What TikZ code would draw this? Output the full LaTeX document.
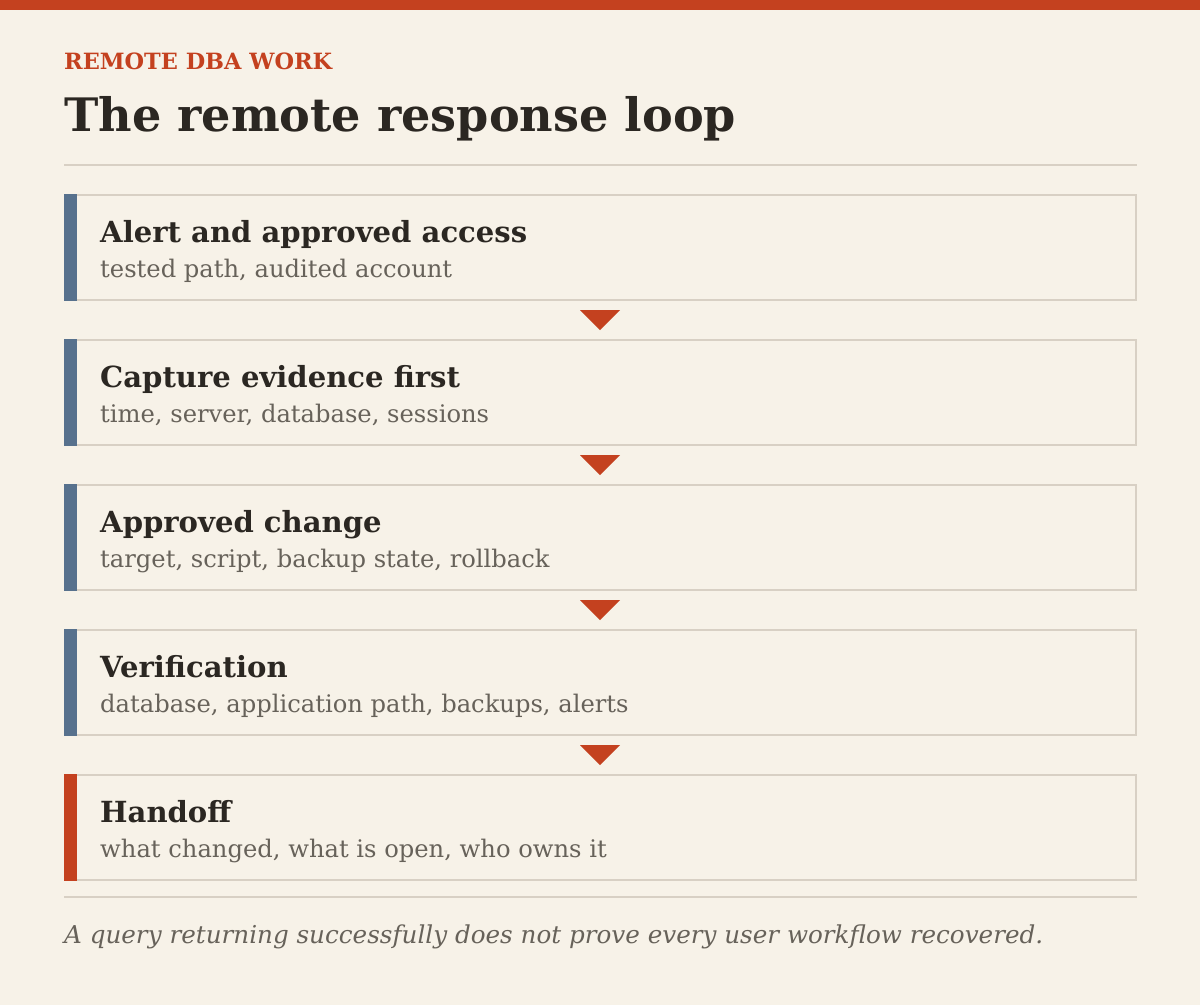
\documentclass[tikz,border=0pt]{standalone}
\usepackage{fontspec}
\setmainfont{DejaVu Serif}
\definecolor{bgc}{HTML}{F7F2E8}
\definecolor{redc}{HTML}{C4411F}
\definecolor{bluec}{HTML}{57718D}
\definecolor{inkc}{HTML}{2B2722}
\definecolor{grayc}{HTML}{67625A}
\definecolor{rulec}{HTML}{D8D0C4}
\newlength\mytw
\newcommand\fitsize[4]{% macro name, target width, font switch, text
  \settowidth\mytw{\normalfont#3\fontsize{10}{12}\selectfont #4}%
  \pgfmathsetmacro#1{10*#2/\mytw}%
  \global\let#1#1}
\AtBeginDocument{%
\fitsize{\ksz}{268}{\bfseries}{REMOTE DBA WORK}%
\fitsize{\hsz}{672}{\bfseries}{The remote response loop}%
\fitsize{\tsz}{427}{\bfseries}{Alert and approved access}%
\fitsize{\ssz}{352}{}{tested path, audited account}%
\fitsize{\fsz}{979}{\itshape}{A query returning successfully does not prove every user workflow recovered.}%
}
\tikzset{
  card/.style={draw=rulec, line width=2pt, fill=bgc},
  ttl/.style={anchor=base west, inner sep=0pt, text=inkc, font=\bfseries\fontsize{\tsz}{\tsz}\selectfont},
  sub/.style={anchor=base west, inner sep=0pt, text=grayc, font=\fontsize{\ssz}{\ssz}\selectfont},
  tri/.style={fill=redc, draw=none},
}
\begin{document}
\begin{tikzpicture}[x=1pt,y=-1pt]
\fill[bgc] (0,0) rectangle (1200,1005);
\useasboundingbox (0,0) rectangle (1200,1005);
\fill[redc] (0,0) rectangle (1200,10);
\node[anchor=base west, inner sep=0pt, text=redc, font=\bfseries\fontsize{\ksz}{\ksz}\selectfont] (kicker) at (64,69) {REMOTE DBA WORK};
\node[anchor=base west, inner sep=0pt, text=inkc, font=\bfseries\fontsize{\hsz}{\hsz}\selectfont] (title) at (64,131) {The remote response loop};
\draw[rulec, line width=2pt] (64,165) coordinate (r1a) -- (1137,165) coordinate (r1b);
\foreach \i/\top/\c/\t/\s in {
 1/195/bluec/Alert and approved access/{tested path, audited account},
 2/340/bluec/Capture evidence first/{time, server, database, sessions},
 3/485/bluec/Approved change/{target, script, backup state, rollback},
 4/630/bluec/Verification/{database, application path, backups, alerts},
 5/775/redc/Handoff/{what changed, what is open, who owns it}}{
  \draw[card] (65,\top) rectangle (1136,\top+105);
  \fill[\c] (64,\top-1) rectangle (77,\top+106);
  \node[ttl] (t\i) at (100,\top+47) {\t};
  \node[sub] (s\i) at (100,\top+82) {\s};
}
\foreach \y in {310,455,600,745}{
  \fill[tri] (580,\y) -- (620,\y) -- (600,\y+20) -- cycle;
}
\draw[rulec, line width=2pt] (64,897) coordinate (r2a) -- (1137,897) coordinate (r2b);
\node[anchor=base west, inner sep=0pt, text=grayc, font=\itshape\fontsize{\fsz}{\fsz}\selectfont] (foot) at (64,943) {A query returning successfully does not prove every user workflow recovered.};
\end{tikzpicture}
\end{document}
